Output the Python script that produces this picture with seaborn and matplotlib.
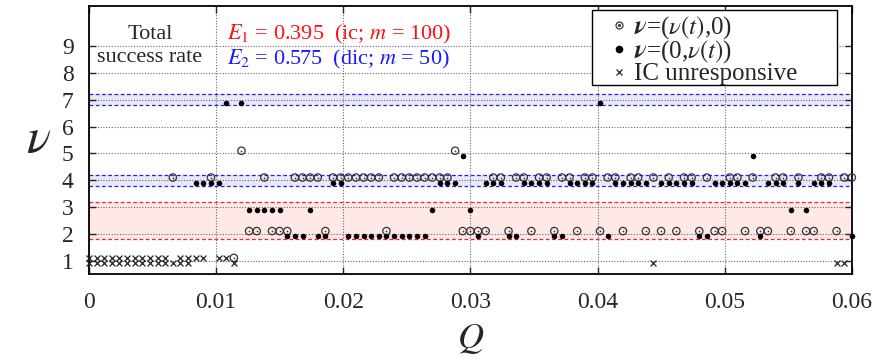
import numpy as np
import pandas as pd
import matplotlib
matplotlib.use("Agg")
import matplotlib.pyplot as plt
from matplotlib.lines import Line2D
from matplotlib.patches import Rectangle
import seaborn as sns

# Q grid: 101 runs from 0 to 0.06
Q = np.linspace(0.0, 0.06, 101)

# observed nu per run, 0 = IC unresponsive
ic_v = [0, 0, 0, 0, 0, 0, 0, 0, 0, 0, 0, 4, 0, 0, 0, 0, 4, 0, 0, 1,
        5, 2, 2, 4, 2, 2, 2, 4, 4, 4, 4, 2, 4, 4, 4, 4, 4, 4, 4, 2,
        4, 4, 4, 4, 4, 4, 4, 4, 5, 2, 2, 2, 2, 4, 4, 2, 4, 4, 2, 4,
        4, 2, 4, 4, 2, 4, 4, 2, 4, 4, 2, 4, 4, 2, 4, 2, 4, 2, 4, 4,
        2, 4, 2, 2, 4, 4, 2, 4, 2, 2, 4, 4, 2, 4, 2, 2, 4, 4, 2, 4, 4]
dic_v = [0, 0, 0, 0, 0, 0, 0, 0, 0, 0, 0, 0, 0, 0, 4, 4, 4, 4, 7, 0,
         7, 3, 3, 3, 3, 3, 2, 2, 2, 3, 2, 2, 4, 4, 2, 2, 2, 2, 2, 2,
         2, 2, 2, 2, 2, 3, 4, 4, 4, 5, 3, 2, 4, 4, 4, 2, 2, 4, 4, 4,
         4, 2, 2, 4, 4, 4, 4, 7, 2, 4, 4, 4, 4, 4, 0, 4, 4, 4, 4, 4,
         2, 2, 4, 4, 4, 4, 4, 5, 2, 4, 4, 4, 3, 4, 3, 4, 4, 4, 0, 0, 2]

# shaded target bands (lo, hi)
red_bands = [(1.8, 3.2)]
blue_bands = [(3.8, 4.2), (6.8, 7.2)]

E_labels = [r"$E_1$ = 0.395  (ic; $m$ = 100)", r"$E_2$ = 0.575  (dic; $m$ = 50)"]
legend_labels = [r"$\boldsymbol{\nu}$=($\nu(t)$,0)", r"$\boldsymbol{\nu}$=(0,$\nu(t)$)",
                 "IC unresponsive"]

df = pd.DataFrame({"Q": Q, "ic": ic_v, "dic": dic_v})
ic_ok = df[df.ic > 0]
ic_no = df[df.ic == 0]
dic_ok = df[df.dic > 0]
dic_no = df[df.dic == 0]

sns.set_style("ticks")
plt.rcParams["font.family"] = ["Liberation Serif", "DejaVu Serif"]
plt.rcParams["mathtext.fontset"] = "stix"

fig = plt.figure(figsize=(8.8, 3.59), dpi=100)
ax = fig.add_axes([0.101, 0.237, 0.867, 0.746])

for lo, hi in red_bands:
    ax.axhspan(lo, hi, color="#ffe8e8", zorder=0.2, lw=0)
    for yy in (lo, hi):
        ax.axhline(yy, color="#ff2020", ls=(0, (3, 2)), lw=0.9, zorder=0.6)
for lo, hi in blue_bands:
    ax.axhspan(lo, hi, color="#e8e8f8", zorder=0.2, lw=0)
    for yy in (lo, hi):
        ax.axhline(yy, color="#2020ff", ls=(0, (3, 2)), lw=0.9, zorder=0.6)

ring = "#333333"
sns.scatterplot(x=ic_ok.Q, y=ic_ok.ic + 0.1, marker="o", s=28,
                facecolors="none", edgecolors=ring, linewidth=0.9,
                ax=ax, clip_on=False, zorder=3)
sns.scatterplot(x=ic_ok.Q, y=ic_ok.ic + 0.1, marker="o", s=1.5,
                color=ring, linewidth=0, ax=ax, clip_on=False, zorder=3)
sns.scatterplot(x=dic_ok.Q, y=dic_ok.dic - 0.1, marker="o", s=16,
                color="black", linewidth=0, ax=ax, clip_on=False, zorder=3)
sns.scatterplot(x=ic_no.Q, y=np.full(len(ic_no), 1.1), marker="x", s=18,
                color="#222222", linewidth=0.9, ax=ax, clip_on=False, zorder=3)
sns.scatterplot(x=dic_no.Q, y=np.full(len(dic_no), 0.9), marker="x", s=18,
                color="#222222", linewidth=0.9, ax=ax, clip_on=False, zorder=3)

ax.set_xlim(0, 0.06)
ax.set_ylim(0.5, 10.5)
ax.set_xticks([0, 0.01, 0.02, 0.03, 0.04, 0.05, 0.06])
ax.set_xticklabels(["0", "0.01", "0.02", "0.03", "0.04", "0.05", "0.06"])
ax.set_yticks(range(1, 10))
ax.grid(True, color="#666666", ls=(0, (1, 1.5)), lw=0.8)
ax.set_axisbelow(True)
ax.tick_params(direction="in", length=5, width=1, top=True, right=True,
               labelsize=17)
ax.tick_params(axis="x", pad=13)
ax.tick_params(axis="y", pad=11)
for sp in ax.spines.values():
    sp.set_visible(True)
    sp.set_linewidth(1.3)
    sp.set_color("black")

ax.set_xlabel("$Q$", fontsize=26)
ax.xaxis.set_label_coords(0.5, -0.18)
ax.set_ylabel(r"$\nu$", fontsize=36, rotation=0, ha="center", va="center")
ax.yaxis.set_label_coords(-0.066, 0.5)

ax.text(0.08, 0.85, "Total\nsuccess rate", transform=ax.transAxes,
        ha="center", va="center", fontsize=16, linespacing=1.3)
ax.text(0.181, 0.895, E_labels[0], transform=ax.transAxes, ha="left",
        va="center", fontsize=16, color="#ff1010")
ax.text(0.181, 0.800, E_labels[1], transform=ax.transAxes, ha="left",
        va="center", fontsize=16, color="#1a1aff")

# legend box drawn by hand so its padding matches
ax.add_patch(Rectangle((0.659, 0.705), 0.321, 0.280, transform=ax.transAxes,
                       facecolor="white", edgecolor="black", lw=1.0, zorder=4))
h_open = (Line2D([], [], ls="none", marker="o", ms=5, mfc="none", mec=ring, mew=0.9),
          Line2D([], [], ls="none", marker="o", ms=1.2, color=ring))
h_fill = Line2D([], [], ls="none", marker="o", ms=4.5, color="black")
h_x = Line2D([], [], ls="none", marker="x", ms=5, color="#222222", mew=0.9)
leg = ax.legend([h_open, h_fill, h_x], legend_labels,
                loc="upper left", bbox_to_anchor=(0.682, 0.970), borderaxespad=0,
                fontsize=18, frameon=False, labelspacing=-0.1, handletextpad=0.2,
                borderpad=0.0, handlelength=0.8)
leg.set_zorder(5)

fig.savefig("out.png", dpi=100)
